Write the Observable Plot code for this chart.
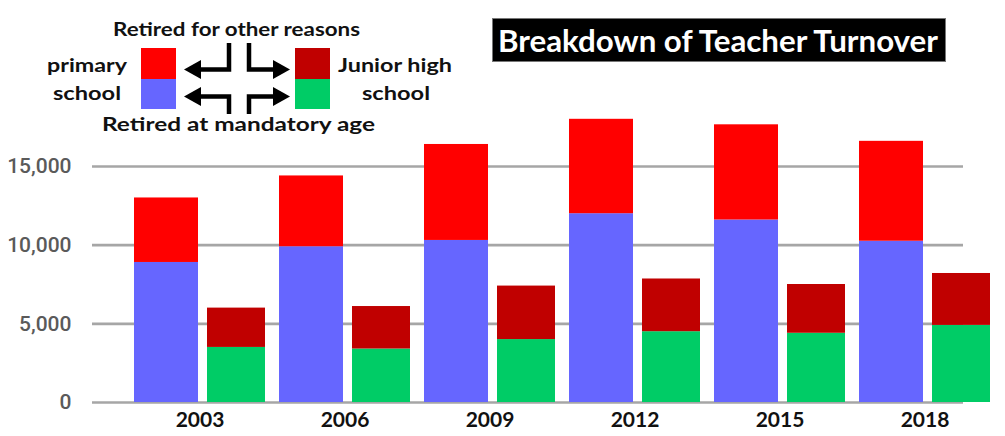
<!DOCTYPE html>
<html>
<head>
<meta charset="utf-8">
<script src="https://cdn.jsdelivr.net/npm/d3@7"></script>
<script src="https://cdn.jsdelivr.net/npm/@observablehq/plot@0.6"></script>
<style>
  html, body { margin: 0; padding: 0; background: #fff; }
  #wrap { position: relative; width: 1005px; height: 436px; overflow: hidden; }
  #wrap svg { position: absolute; left: 0; top: 0; }
</style>
</head>
<body>
<div id="wrap"></div>
<script>
// ---- data ----
const years = ["2003", "2006", "2009", "2012", "2015", "2018"];
const primaryMandatory = [8900, 9900, 10300, 12000, 11600, 10250];
const primaryOther     = [4100, 4500, 6100, 6000, 6050, 6350];
const juniorMandatory  = [3500, 3400, 4000, 4500, 4400, 4900];
const juniorOther      = [2500, 2700, 3400, 3350, 3100, 3300];
const yTicks = [0, 5000, 10000, 15000];

const seriesKeys = [
  "Primary school – retired at mandatory age",
  "Primary school – retired for other reasons",
  "Junior high school – retired at mandatory age",
  "Junior high school – retired for other reasons"
];
const seriesColors = ["#6666ff", "#ff0000", "#00cc66", "#c00000"];

const titleText = "Breakdown of Teacher Turnover";

// ---- tables built from the arrays ----
const primaryRows = [];
const juniorRows = [];
years.forEach((yr, i) => {
  primaryRows.push({year: yr, series: seriesKeys[0], value: primaryMandatory[i]});
  primaryRows.push({year: yr, series: seriesKeys[1], value: primaryOther[i]});
  juniorRows.push({year: yr, series: seriesKeys[2], value: juniorMandatory[i]});
  juniorRows.push({year: yr, series: seriesKeys[3], value: juniorOther[i]});
});

const chart = Plot.plot({
  width: 1005,
  height: 436,
  marginLeft: 92,
  marginRight: 42,
  marginTop: 0,
  marginBottom: 34,
  style: {fontFamily: "Lato, 'Noto Sans', sans-serif", background: "transparent"},
  x: {domain: years, range: [126, 998], paddingInner: 0.1, paddingOuter: 0.05, axis: null},
  y: {domain: [0, 15000], range: [402, 166], axis: null},
  color: {domain: seriesKeys, range: seriesColors},
  marks: [
    Plot.gridY({ticks: yTicks, stroke: "#a6a6a6", strokeOpacity: 1, strokeWidth: 2.6}),
    Plot.barY(primaryRows, {x: "year", y: "value", fill: "series", insetRight: 67}),
    Plot.barY(juniorRows, {x: "year", y: "value", fill: "series", insetLeft: 73}),
    Plot.axisY({
      ticks: yTicks, tickFormat: d3.format(","), tickSize: 0, tickPadding: 21,
      label: null, fontSize: 21, fontFamily: "Roboto", fontWeight: 500, color: "#5a5a5a"
    }),
    Plot.axisX({
      tickSize: 0, tickPadding: 10, label: null,
      fontSize: 21, fontFamily: "Lato", fontWeight: 700, color: "#111"
    })
  ]
});
document.getElementById("wrap").appendChild(chart);

// ---- legend and title overlay ----
const ov = d3.select("#wrap").append("svg")
  .attr("width", 1005).attr("height", 436)
  .style("font-family", "Lato, 'Noto Sans', sans-serif")
  .style("font-weight", 700);

function label(txt, x, y, len, size) {
  ov.append("text").attr("x", x).attr("y", y)
    .attr("font-size", size).attr("fill", "#111")
    .attr("textLength", len).attr("lengthAdjust", "spacingAndGlyphs")
    .text(txt);
}
label("Retired for other reasons", 113, 36, 247, 19);
label("primary", 47, 72, 80, 19);
label("school", 53, 100, 68, 19);
label("Junior high", 338, 72, 114, 19);
label("school", 362, 100, 68, 19);
label("Retired at mandatory age", 102, 131, 273, 19);

// swatches
ov.append("rect").attr("x", 141).attr("y", 48).attr("width", 35).attr("height", 31).attr("fill", seriesColors[1]);
ov.append("rect").attr("x", 141).attr("y", 79).attr("width", 35).attr("height", 30).attr("fill", seriesColors[0]);
ov.append("rect").attr("x", 295).attr("y", 48).attr("width", 35).attr("height", 31).attr("fill", seriesColors[3]);
ov.append("rect").attr("x", 295).attr("y", 79).attr("width", 35).attr("height", 30).attr("fill", seriesColors[2]);

// arrows
const arrows = [
  {path: "M229,43 V69.5 H198", head: "184,69.5 201,60 201,79"},
  {path: "M249,43 V69.5 H276", head: "290,69.5 273,60 273,79"},
  {path: "M229,114 V96.5 H198", head: "184,96.5 201,87 201,106"},
  {path: "M249,114 V96.5 H276", head: "290,96.5 273,87 273,106"}
];
arrows.forEach(a => {
  ov.append("path").attr("d", a.path).attr("fill", "none").attr("stroke", "#000").attr("stroke-width", 4.5);
  ov.append("polygon").attr("points", a.head).attr("fill", "#000");
});

// title box
ov.append("rect").attr("x", 492.5).attr("y", 18.5).attr("width", 453).attr("height", 43)
  .attr("fill", "#000").attr("stroke", "#777").attr("stroke-width", 1);
ov.append("text").attr("x", 498).attr("y", 52).attr("font-size", 31).attr("fill", "#fff")
  .attr("textLength", 440).attr("lengthAdjust", "spacingAndGlyphs").text(titleText);
</script>
</body>
</html>
